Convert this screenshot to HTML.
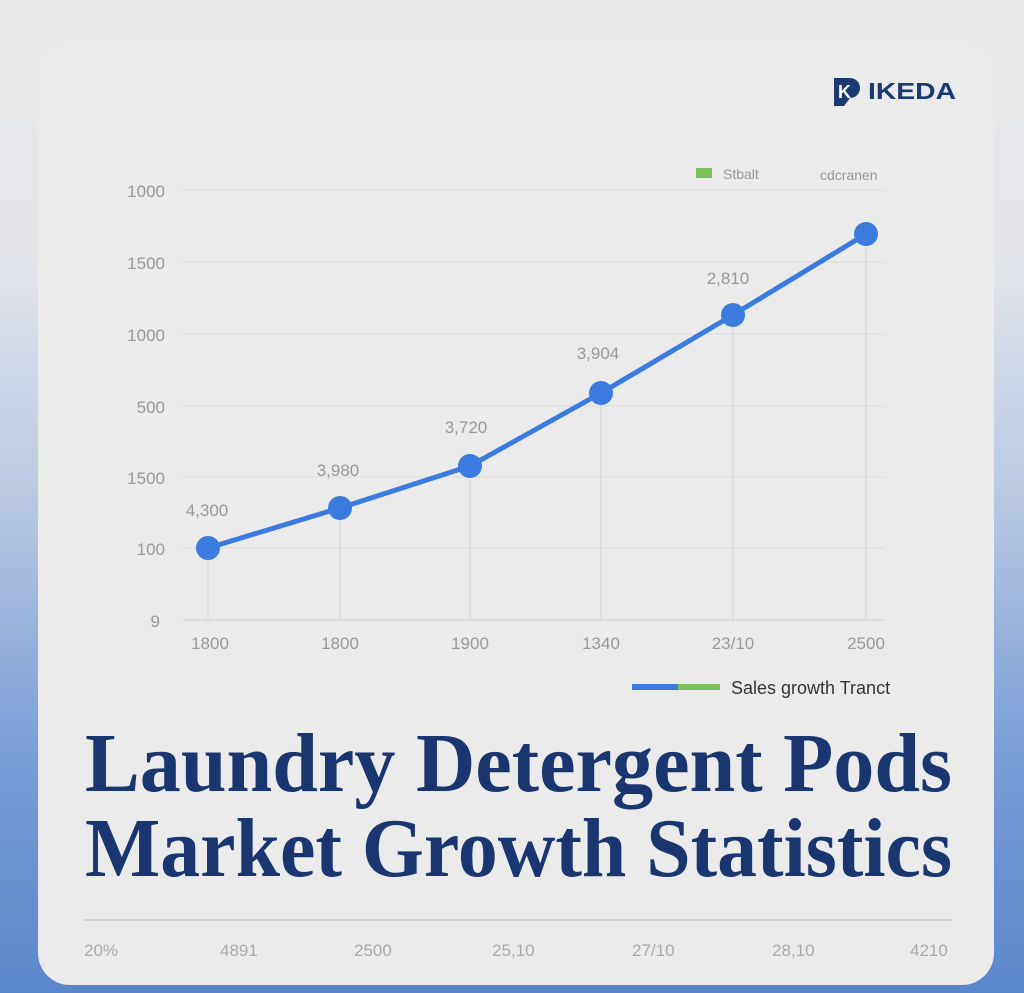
<!DOCTYPE html>
<html><head><meta charset="utf-8"><style>
html,body{margin:0;padding:0}
body{width:1024px;height:993px;overflow:hidden;background:linear-gradient(180deg,#e9e9ea 0%,#e4e6ea 25%,#b9c9e3 50%,#7b9fd6 75%,#5a86cc 100%);font-family:"Liberation Sans",sans-serif}
</style></head><body>
<svg width="1024" height="993" xmlns="http://www.w3.org/2000/svg" style="position:absolute;left:0;top:0">
<rect x="0" y="0" width="1024" height="120" fill="#e9e9e9"/>
<rect x="38" y="40" width="956" height="945" rx="32" fill="#ebebeb"/>
<path d="M834 78 h16 a10 10 0 0 1 0 20 l-6 8 h-10 z" fill="#1b3a72"/>
<text x="838" y="98" font-family="Liberation Sans" font-weight="bold" font-size="18" fill="#fff">K</text>
<text x="868" y="99" font-family="Liberation Sans" font-weight="bold" font-size="23" fill="#1b3a72" textLength="88" lengthAdjust="spacingAndGlyphs">IKEDA</text>
<rect x="696" y="168" width="16" height="10" fill="#7cc05c"/>
<text x="723" y="179" font-size="14" fill="#999">Stbalt</text>
<text x="820" y="180" font-size="14" fill="#999">cdcranen</text>
<g stroke="#dcdcdc" stroke-width="1">
<line x1="183" y1="190" x2="885" y2="190"/><line x1="183" y1="262" x2="885" y2="262"/>
<line x1="183" y1="334" x2="885" y2="334"/><line x1="183" y1="406" x2="885" y2="406"/>
<line x1="183" y1="477" x2="885" y2="477"/><line x1="183" y1="548" x2="885" y2="548"/>
<line x1="183" y1="620" x2="885" y2="620" stroke="#ccc"/>
</g>
<g stroke="#d6d6d6" stroke-width="1">
<line x1="208" y1="548" x2="208" y2="620"/><line x1="340" y1="508" x2="340" y2="620"/>
<line x1="470" y1="466" x2="470" y2="620"/><line x1="601" y1="393" x2="601" y2="620"/>
<line x1="733" y1="315" x2="733" y2="620"/><line x1="866" y1="234" x2="866" y2="620"/>
</g>
<g font-size="17" fill="#999" text-anchor="end">
<text x="165" y="197">1000</text><text x="165" y="269">1500</text><text x="165" y="341">1000</text>
<text x="165" y="413">500</text><text x="165" y="484">1500</text><text x="165" y="555">100</text><text x="160" y="627">9</text>
</g>
<g font-size="17" fill="#999" text-anchor="middle">
<text x="210" y="649">1800</text><text x="340" y="649">1800</text><text x="470" y="649">1900</text>
<text x="601" y="649">1340</text><text x="733" y="649">23/10</text><text x="866" y="649">2500</text>
</g>
<g font-size="17" fill="#999" text-anchor="middle">
<text x="207" y="516">4,300</text><text x="338" y="476">3,980</text><text x="466" y="433">3,720</text>
<text x="598" y="359">3,904</text><text x="728" y="284">2,810</text>
</g>
<polyline points="208,548 340,508 470,466 601,393 733,315 866,234" fill="none" stroke="#3b7be0" stroke-width="5" stroke-linejoin="round"/>
<g fill="#3b7be0">
<circle cx="208" cy="548" r="12"/><circle cx="340" cy="508" r="12"/><circle cx="470" cy="466" r="12"/>
<circle cx="601" cy="393" r="12"/><circle cx="733" cy="315" r="12"/><circle cx="866" cy="234" r="12"/>
</g>
<rect x="632" y="684" width="46" height="6" fill="#3b7be0"/>
<rect x="678" y="684" width="42" height="6" fill="#7cc05c"/>
<text x="731" y="694" font-size="18" fill="#333">Sales growth Tranct</text>
<g font-family="Liberation Serif" font-weight="bold" fill="#1a3670" font-size="84">
<text x="85" y="791" textLength="867" lengthAdjust="spacingAndGlyphs">Laundry Detergent Pods</text>
<text x="85" y="876" textLength="867" lengthAdjust="spacingAndGlyphs">Market Growth Statistics</text>
</g>
<line x1="84" y1="920" x2="952" y2="920" stroke="#d4d4d4" stroke-width="2"/>
<g font-size="17" fill="#aaa">
<text x="84" y="956">20%</text><text x="220" y="956">4891</text><text x="354" y="956">2500</text>
<text x="492" y="956">25,10</text><text x="632" y="956">27/10</text><text x="772" y="956">28,10</text><text x="910" y="956">4210</text>
</g>
</svg>
</body></html>
